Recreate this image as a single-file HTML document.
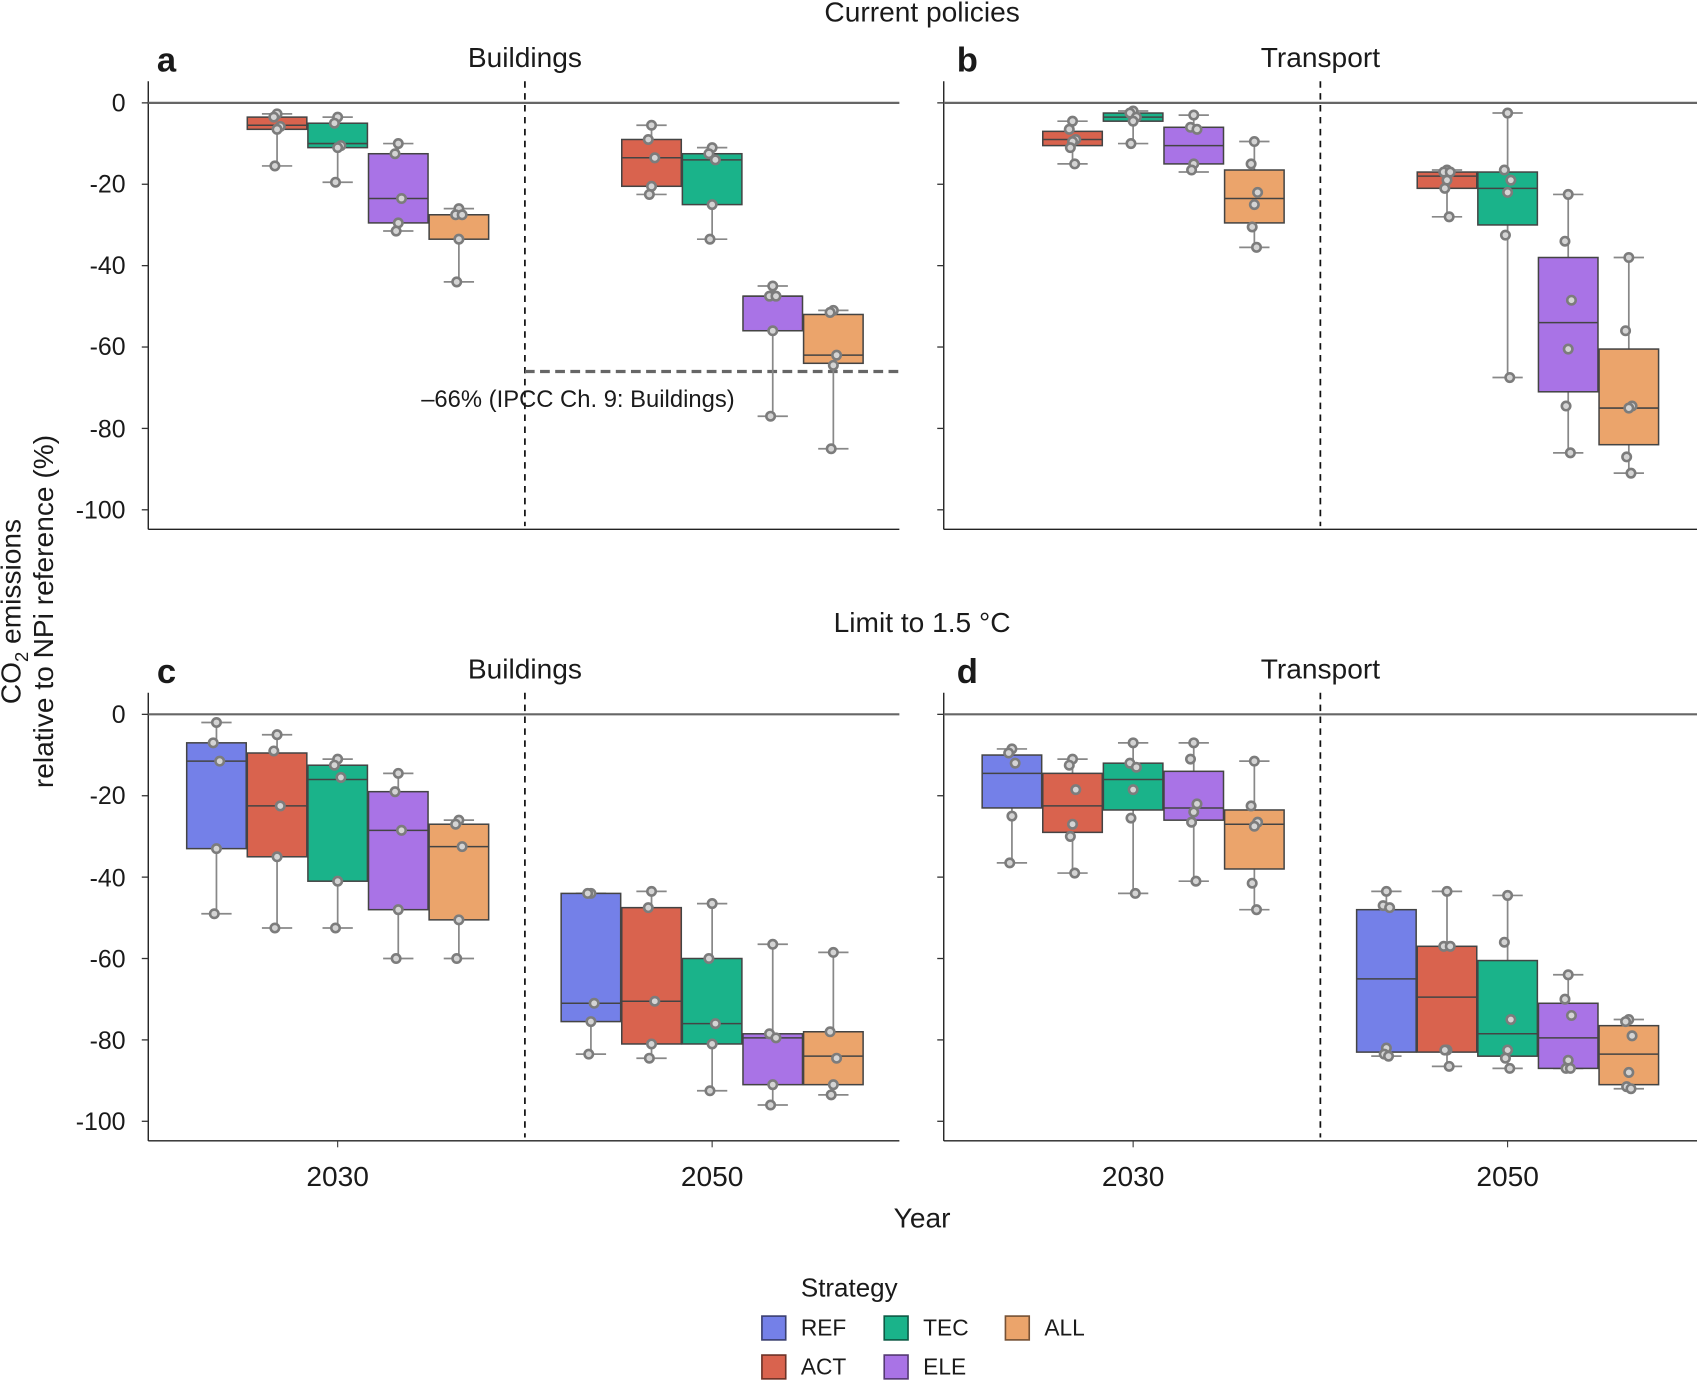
<!DOCTYPE html>
<html><head><meta charset="utf-8"><style>
html,body{margin:0;padding:0;background:#fff}
svg{display:block}
text{font-family:"Liberation Sans",sans-serif;fill:#1a1a1a}
</style></head><body>
<svg id="s" width="1697" height="1380" viewBox="0 0 1568 1275" xmlns="http://www.w3.org/2000/svg">
<g id="plots"></g>
<g font-size="26" text-anchor="middle">
<text x="852" y="20">Current policies</text>
<text x="852" y="584">Limit to 1.5 °C</text>
<text x="485" y="62">Buildings</text>
<text x="1220" y="62">Transport</text>
<text x="485" y="627">Buildings</text>
<text x="1220" y="627">Transport</text>
</g>
<g font-size="32" font-weight="bold">
<text x="145" y="66">a</text><text x="884" y="66">b</text>
<text x="145" y="631">c</text><text x="884" y="631">d</text>
</g>
<g font-size="23" text-anchor="end">
<text x="116" y="103">0</text><text x="116" y="178">-20</text><text x="116" y="253">-40</text><text x="116" y="328">-60</text><text x="116" y="404">-80</text><text x="116" y="479">-100</text>
<text x="116" y="668">0</text><text x="116" y="743">-20</text><text x="116" y="819">-40</text><text x="116" y="894">-60</text><text x="116" y="969">-80</text><text x="116" y="1044">-100</text>
</g>
<g font-size="26" text-anchor="middle">
<text x="312" y="1096">2030</text><text x="658" y="1096">2050</text>
<text x="1047" y="1096">2030</text><text x="1393" y="1096">2050</text>
<text x="852" y="1134">Year</text>
</g>
<text x="534" y="376" font-size="22" text-anchor="middle">–66% (IPCC Ch. 9: Buildings)</text>
<g font-size="26" text-anchor="middle">
<text transform="translate(19,565) rotate(-90)">CO<tspan font-size="17" dy="7">2</tspan><tspan dy="-7"> emissions</tspan></text>
<text transform="translate(49,565) rotate(-90)">relative to NPi reference (%)</text>
</g>
<g font-size="24">
<text x="740" y="1198">Strategy</text>
</g>
<g font-size="21">
<text x="740" y="1234">REF</text><text x="853" y="1234">TEC</text><text x="965" y="1234">ALL</text>
<text x="740" y="1270">ACT</text><text x="853" y="1270">ELE</text>
</g>
<g stroke-width="1.5">
<rect x="704" y="1216" width="22" height="22" fill="#7480e8" stroke="#3a3f70"/>
<rect x="817" y="1216" width="22" height="22" fill="#1ab38a" stroke="#0e5a45"/>
<rect x="929" y="1216" width="22" height="22" fill="#eba46b" stroke="#765236"/>
<rect x="704" y="1252" width="22" height="22" fill="#d9634e" stroke="#6d3227"/>
<rect x="817" y="1252" width="22" height="22" fill="#a973e6" stroke="#553a73"/>
</g>
</svg>
<script>
var NS="http://www.w3.org/2000/svg",G=document.getElementById("plots");
function el(t,a){var e=document.createElementNS(NS,t);for(var k in a)e.setAttribute(k,a[k]);G.appendChild(e);return e;}
var C={REF:"#7480e8",ACT:"#d9634e",TEC:"#1ab38a",ELE:"#a973e6",ALL:"#eba46b"};
var OFF={REF:-112,ACT:-56,TEC:0,ELE:56,ALL:112};
function panel(x0,x1,z,vx){
  var Y=function(v){return z-v*3.76;};
  el("line",{x1:x0,y1:z-20,x2:x0,y2:Y(-104.8),stroke:"#222","stroke-width":1.3});
  el("line",{x1:x0,y1:Y(-104.8),x2:x1,y2:Y(-104.8),stroke:"#222","stroke-width":1.3});
  for(var v=0;v>=-100;v-=20)el("line",{x1:x0-6,y1:Y(v),x2:x0,y2:Y(v),stroke:"#333","stroke-width":1.2});
  el("line",{x1:x0,y1:z,x2:x1,y2:z,stroke:"#666","stroke-width":2});
  el("line",{x1:vx,y1:z-20,x2:vx,y2:Y(-104),stroke:"#111","stroke-width":1.6,"stroke-dasharray":"6,5"});
  return Y;
}
function box(Y,cx,c,d){
  var lo=d[0],hi=d[1],med=d[2],wl=d[3],wh=d[4],pts=d[5],w=55;
  el("line",{x1:cx,y1:Y(wh),x2:cx,y2:Y(hi),stroke:"#888","stroke-width":1.6});
  el("line",{x1:cx,y1:Y(lo),x2:cx,y2:Y(wl),stroke:"#888","stroke-width":1.6});
  el("line",{x1:cx-14,y1:Y(wh),x2:cx+14,y2:Y(wh),stroke:"#888","stroke-width":1.6});
  el("line",{x1:cx-14,y1:Y(wl),x2:cx+14,y2:Y(wl),stroke:"#888","stroke-width":1.6});
  el("rect",{x:cx-w/2,y:Y(hi),width:w,height:Y(lo)-Y(hi),fill:c,stroke:"#444","stroke-width":1.4});
  el("line",{x1:cx-w/2,y1:Y(med),x2:cx+w/2,y2:Y(med),stroke:"#444","stroke-width":1.4});
  var j=[0,-3,3,0,-2,2];
  pts.forEach(function(p,i){el("circle",{cx:cx+j[i%6],cy:Y(p),r:3.9,fill:"#d4d4d4",stroke:"#7c7c7c","stroke-width":2.4});});
}
function group(Y,xc,data){for(var k in data)box(Y,xc+OFF[k],C[k],data[k]);}
var Ya=panel(137,831,95,485);
el("line",{x1:485,y1:Ya(-66),x2:831,y2:Ya(-66),stroke:"#666","stroke-width":3,"stroke-dasharray":"9,5"});
group(Ya,312,{ACT:[-6.5,-3.5,-5.5,-15.5,-2.7,[-2.7,-3.5,-5.8,-6.5,-15.5]],TEC:[-11,-5,-10,-19.5,-3.5,[-3.5,-5,-10.5,-11,-19.5]],ELE:[-29.5,-12.5,-23.5,-31.5,-10,[-10,-12.5,-23.5,-29.5,-31.5]],ALL:[-33.5,-27.5,-27.5,-44,-26,[-26,-27.5,-27.5,-33.5,-44]]});
group(Ya,658,{ACT:[-20.5,-9,-13.5,-22.5,-5.5,[-5.5,-9,-13.5,-20.5,-22.5]],TEC:[-25,-12.5,-14,-33.5,-11,[-11,-12.5,-14,-25,-33.5]],ELE:[-56,-47.5,-47.5,-77,-45,[-45,-47.5,-47.5,-56,-77]],ALL:[-64,-52,-62,-85,-51,[-51,-51.5,-62,-64.5,-85]]});
var Yb=panel(872,1568,95,1220);
group(Yb,1047,{ACT:[-10.5,-7,-9,-15,-4.5,[-4.5,-6.5,-9,-9.5,-11,-15]],TEC:[-4.5,-2.5,-3.5,-10,-2,[-2,-2.5,-3.5,-4.5,-10]],ELE:[-15,-6,-10.5,-17,-3,[-3,-6,-6.5,-15,-16.5]],ALL:[-29.5,-16.5,-23.5,-35.5,-9.5,[-9.5,-15,-22,-25,-30.5,-35.5]]});
group(Yb,1393,{ACT:[-21,-17,-18,-28,-16.5,[-16.5,-17,-17,-19,-21,-28]],TEC:[-30,-17,-21,-67.5,-2.5,[-2.5,-16.5,-19,-22,-32.5,-67.5]],ELE:[-71,-38,-54,-86,-22.5,[-22.5,-34,-48.5,-60.5,-74.5,-86]],ALL:[-84,-60.5,-75,-91,-38,[-38,-56,-74.5,-75,-87,-91]]});
var Yc=panel(137,831,660,485);
el("line",{x1:312,y1:Yc(-104.8),x2:312,y2:Yc(-104.8)+6,stroke:"#333"});el("line",{x1:658,y1:Yc(-104.8),x2:658,y2:Yc(-104.8)+6,stroke:"#333"});
group(Yc,312,{REF:[-33,-7,-11.5,-49,-2,[-2,-7,-11.5,-33,-49]],ACT:[-35,-9.5,-22.5,-52.5,-5,[-5,-9,-22.5,-35,-52.5]],TEC:[-41,-12.5,-16,-52.5,-11,[-11,-12.5,-15.5,-41,-52.5]],ELE:[-48,-19,-28.5,-60,-14.5,[-14.5,-19,-28.5,-48,-60]],ALL:[-50.5,-27,-32.5,-60,-26,[-26,-27,-32.5,-50.5,-60]]});
group(Yc,658,{REF:[-75.5,-44,-71,-83.5,-44,[-44,-44,-71,-75.5,-83.5]],ACT:[-81,-47.5,-70.5,-84.5,-43.5,[-43.5,-47.5,-70.5,-81,-84.5]],TEC:[-81,-60,-76,-92.5,-46.5,[-46.5,-60,-76,-81,-92.5]],ELE:[-91,-78.5,-79.5,-96,-56.5,[-56.5,-78.5,-79.5,-91,-96]],ALL:[-91,-78,-84,-93.5,-58.5,[-58.5,-78,-84.5,-91,-93.5]]});
var Yd=panel(872,1568,660,1220);
el("line",{x1:1047,y1:Yd(-104.8),x2:1047,y2:Yd(-104.8)+6,stroke:"#333"});el("line",{x1:1393,y1:Yd(-104.8),x2:1393,y2:Yd(-104.8)+6,stroke:"#333"});
group(Yd,1047,{REF:[-23,-10,-14.5,-36.5,-8.5,[-8.5,-9.5,-12,-25,-36.5]],ACT:[-29,-14.5,-22.5,-39,-11,[-11,-12.5,-18.5,-27,-30,-39]],TEC:[-23.5,-12,-16,-44,-7,[-7,-12,-13,-18.5,-25.5,-44]],ELE:[-26,-14,-23,-41,-7,[-7,-11,-22,-24,-26.5,-41]],ALL:[-38,-23.5,-27,-48,-11.5,[-11.5,-22.5,-26.5,-27.5,-41.5,-48]]});
group(Yd,1393,{REF:[-83,-48,-65,-84,-43.5,[-43.5,-47,-47.5,-82,-83.5,-84]],ACT:[-83,-57,-69.5,-86.5,-43.5,[-43.5,-57,-57,-82.5,-82.5,-86.5]],TEC:[-84,-60.5,-78.5,-87,-44.5,[-44.5,-56,-75,-82.5,-84.5,-87]],ELE:[-87,-71,-79.5,-87,-64,[-64,-70,-74,-85,-87,-87]],ALL:[-91,-76.5,-83.5,-92,-75,[-75,-75.5,-79,-88,-91.5,-92]]});
</script>
</body></html>
